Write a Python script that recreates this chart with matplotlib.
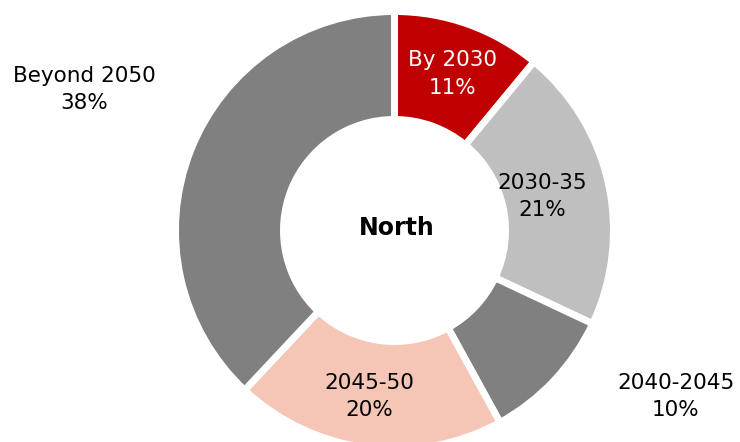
import matplotlib.pyplot as plt

# share of capacity by retirement period
periods = ['By 2030', '2030-35', '2040-2045', '2045-50', 'Beyond 2050']
shares = [11, 21, 10, 20, 38]
colors = ['#C00000', '#BFBFBF', '#808080', '#F5C5B5', '#808080']
text_colors = ['white', 'black', 'black', 'black', 'black']

# label anchor points in data coords (pie radius = 1, center at 394.5/230.5 px)
label_pos = [(0.263, 0.715), (0.676, 0.155), (1.285, -0.757),
             (-0.114, -0.757), (-1.415, 0.643)]

fig = plt.figure(figsize=(7.4, 4.42), dpi=100)
ax = fig.add_axes([175.5 / 740, (442 - 449.5) / 442, 438 / 740, 438 / 442])

ax.pie(shares, colors=colors, startangle=90, counterclock=False,
       radius=1.0, wedgeprops=dict(width=0.493, edgecolor='white', linewidth=5))

for name, val, (x, y), tc in zip(periods, shares, label_pos, text_colors):
    ax.text(x, y, f'{name}\n{val}%', ha='center', va='center', color=tc,
            fontsize=15.5, family='DejaVu Sans', linespacing=1.45)

ax.text(0.01, 0.01, 'North', ha='center', va='center', fontsize=17,
        fontweight='bold', family='DejaVu Sans')

ax.set_xlim(-1, 1)
ax.set_ylim(-1, 1)
ax.set_aspect('equal')
ax.axis('off')

fig.savefig('out.png', dpi=100)
